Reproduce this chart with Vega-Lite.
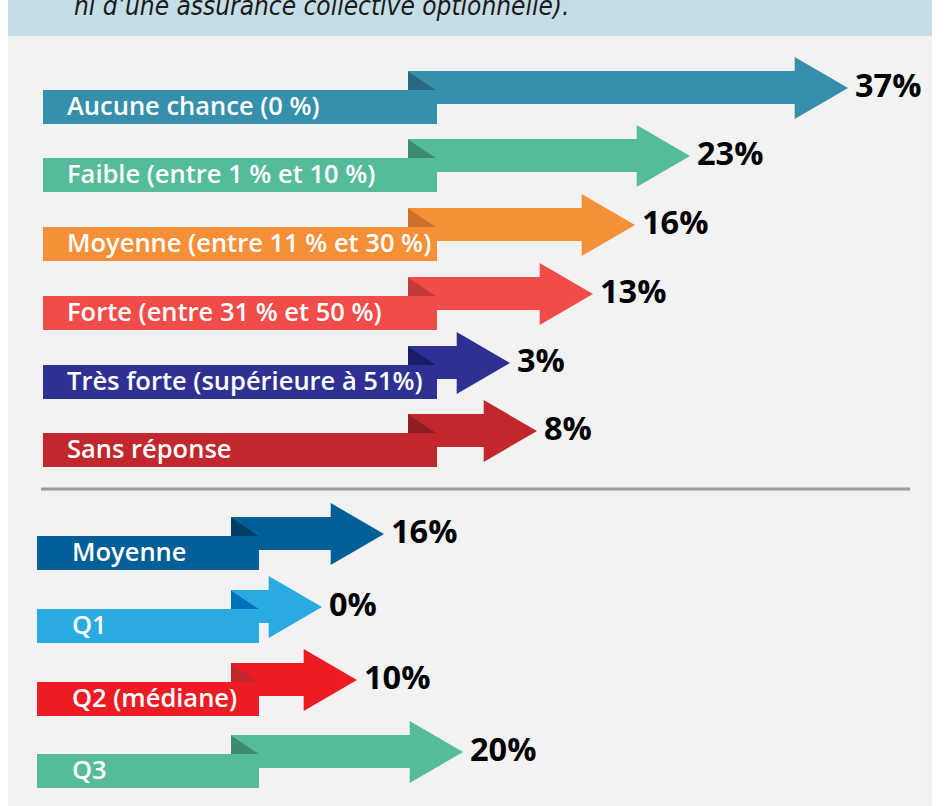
{
  "$schema": "https://vega.github.io/schema/vega-lite/v6.json",
  "width": 924,
  "height": 806,
  "autosize": {"type": "none"},
  "padding": {"left": 8, "right": 15, "top": 0, "bottom": 0},
  "background": "#ffffff",
  "config": {"view": {"stroke": null, "fill": "#f2f2f2"}},
  "datasets": {
    "rows": [
      {"section": "top", "label": "Aucune chance (0 %)", "share": 0.37, "color": "#368fab", "fold": "#28697f", "c": 107, "x0": 43, "x1": 437, "a0": 408, "tip": 848},
      {"section": "top", "label": "Faible (entre 1 % et 10 %)", "share": 0.23, "color": "#55bb9b", "fold": "#3d8b73", "c": 175, "x0": 43, "x1": 437, "a0": 408, "tip": 690},
      {"section": "top", "label": "Moyenne (entre 11 % et 30 %)", "share": 0.16, "color": "#f58f38", "fold": "#c8722d", "c": 244, "x0": 43, "x1": 437, "a0": 408, "tip": 635},
      {"section": "top", "label": "Forte (entre 31 % et 50 %)", "share": 0.13, "color": "#f24c4a", "fold": "#c23a3c", "c": 313, "x0": 43, "x1": 437, "a0": 408, "tip": 593},
      {"section": "top", "label": "Très forte (supérieure à 51%)", "share": 0.03, "color": "#2e3192", "fold": "#1c1d68", "c": 382, "x0": 43, "x1": 437, "a0": 408, "tip": 510},
      {"section": "top", "label": "Sans réponse", "share": 0.08, "color": "#c1272d", "fold": "#8e1e23", "c": 450, "x0": 43, "x1": 437, "a0": 408, "tip": 537},
      {"section": "bottom", "label": "Moyenne", "share": 0.16, "color": "#005f96", "fold": "#003d63", "c": 553, "x0": 37, "x1": 259, "a0": 231, "tip": 384},
      {"section": "bottom", "label": "Q1", "share": 0.0, "color": "#29abe2", "fold": "#0071bc", "c": 626, "x0": 37, "x1": 259, "a0": 231, "tip": 322},
      {"section": "bottom", "label": "Q2 (médiane)", "share": 0.10, "color": "#ed1c24", "fold": "#c1272d", "c": 699, "x0": 37, "x1": 259, "a0": 231, "tip": 357},
      {"section": "bottom", "label": "Q3", "share": 0.20, "color": "#55bb9b", "fold": "#3d8b73", "c": 771, "x0": 37, "x1": 259, "a0": 231, "tip": 463}
    ],
    "frame": [
      {"x": 8, "x2": 932, "y": 0, "y2": 36, "text": "ni d’une assurance collective optionnelle).", "tx": 74, "ty": 15}
    ],
    "divider": [
      {"x": 41, "x2": 910, "y": 489}
    ]
  },
  "layer": [
    {
      "data": {"name": "frame"},
      "mark": {"type": "rect", "color": "#c4dde6"},
      "encoding": {
        "x": {"field": "x", "type": "quantitative", "scale": {"domain": [8, 932], "nice": false, "zero": false}, "axis": null},
        "x2": {"field": "x2"},
        "y": {"field": "y", "type": "quantitative", "scale": {"domain": [0, 806], "nice": false, "zero": false, "reverse": true}, "axis": null},
        "y2": {"field": "y2"}
      }
    },
    {
      "data": {"name": "frame"},
      "mark": {"type": "text", "align": "left", "baseline": "alphabetic", "font": "Liberation Sans Narrow, DejaVu Sans Condensed, sans-serif", "fontStyle": "italic", "fontSize": 26, "color": "#1a1a1a"},
      "encoding": {
        "x": {"field": "tx", "type": "quantitative", "scale": {"domain": [8, 932], "nice": false, "zero": false}, "axis": null},
        "y": {"field": "ty", "type": "quantitative", "scale": {"domain": [0, 806], "nice": false, "zero": false, "reverse": true}, "axis": null},
        "text": {"field": "text"}
      }
    },
    {
      "data": {"name": "divider"},
      "mark": {"type": "rule", "color": "#9b9b9b", "strokeWidth": 3},
      "encoding": {
        "x": {"field": "x", "type": "quantitative", "scale": {"domain": [8, 932], "nice": false, "zero": false}, "axis": null},
        "x2": {"field": "x2"},
        "y": {"field": "y", "type": "quantitative", "scale": {"domain": [0, 806], "nice": false, "zero": false, "reverse": true}, "axis": null}
      }
    },
    {
      "data": {"name": "rows"},
      "mark": {"type": "rect", "x2Offset": -50, "yOffset": -36, "y2Offset": -3},
      "encoding": {
        "x": {"field": "a0", "type": "quantitative", "scale": {"domain": [8, 932], "nice": false, "zero": false}, "axis": null},
        "x2": {"field": "tip"},
        "y": {"field": "c", "type": "quantitative", "scale": {"domain": [0, 806], "nice": false, "zero": false, "reverse": true}, "axis": null},
        "y2": {"field": "c"},
        "color": {"field": "color", "type": "nominal", "scale": null}
      }
    },
    {
      "data": {"name": "rows"},
      "mark": {"type": "point", "shape": "M0,-1L0,0L1.5,0Z", "size": 1369, "filled": true, "opacity": 1, "yOffset": -17},
      "encoding": {
        "x": {"field": "a0", "type": "quantitative", "scale": {"domain": [8, 932], "nice": false, "zero": false}, "axis": null},
        "y": {"field": "c", "type": "quantitative", "scale": {"domain": [0, 806], "nice": false, "zero": false, "reverse": true}, "axis": null},
        "color": {"field": "fold", "type": "nominal", "scale": null}
      }
    },
    {
      "data": {"name": "rows"},
      "mark": {"type": "rect", "yOffset": -17, "y2Offset": 17},
      "encoding": {
        "x": {"field": "x0", "type": "quantitative", "scale": {"domain": [8, 932], "nice": false, "zero": false}, "axis": null},
        "x2": {"field": "x1"},
        "y": {"field": "c", "type": "quantitative", "scale": {"domain": [0, 806], "nice": false, "zero": false, "reverse": true}, "axis": null},
        "y2": {"field": "c"},
        "color": {"field": "color", "type": "nominal", "scale": null}
      }
    },
    {
      "data": {"name": "rows"},
      "mark": {"type": "point", "shape": "M-1.72,-1L0,0L-1.72,1Z", "size": 3844, "filled": true, "opacity": 1, "yOffset": -19},
      "encoding": {
        "x": {"field": "tip", "type": "quantitative", "scale": {"domain": [8, 932], "nice": false, "zero": false}, "axis": null},
        "y": {"field": "c", "type": "quantitative", "scale": {"domain": [0, 806], "nice": false, "zero": false, "reverse": true}, "axis": null},
        "color": {"field": "color", "type": "nominal", "scale": null}
      }
    },
    {
      "data": {"name": "rows"},
      "transform": [{"filter": "datum.section === 'top'"}],
      "mark": {"type": "text", "align": "left", "baseline": "alphabetic", "font": "Open Sans", "fontWeight": 600, "fontSize": 25.5, "color": "#ffffff", "xOffset": 24, "yOffset": 8},
      "encoding": {
        "x": {"field": "x0", "type": "quantitative", "scale": {"domain": [8, 932], "nice": false, "zero": false}, "axis": null},
        "y": {"field": "c", "type": "quantitative", "scale": {"domain": [0, 806], "nice": false, "zero": false, "reverse": true}, "axis": null},
        "text": {"field": "label"}
      }
    },
    {
      "data": {"name": "rows"},
      "transform": [{"filter": "datum.section === 'bottom'"}],
      "mark": {"type": "text", "align": "left", "baseline": "alphabetic", "font": "Open Sans", "fontWeight": 600, "fontSize": 25.5, "color": "#ffffff", "xOffset": 35, "yOffset": 8},
      "encoding": {
        "x": {"field": "x0", "type": "quantitative", "scale": {"domain": [8, 932], "nice": false, "zero": false}, "axis": null},
        "y": {"field": "c", "type": "quantitative", "scale": {"domain": [0, 806], "nice": false, "zero": false, "reverse": true}, "axis": null},
        "text": {"field": "label"}
      }
    },
    {
      "data": {"name": "rows"},
      "mark": {"type": "text", "align": "left", "baseline": "alphabetic", "font": "Open Sans", "fontWeight": "bold", "fontSize": 32.5, "color": "#000000", "xOffset": 7, "yOffset": -10},
      "encoding": {
        "x": {"field": "tip", "type": "quantitative", "scale": {"domain": [8, 932], "nice": false, "zero": false}, "axis": null},
        "y": {"field": "c", "type": "quantitative", "scale": {"domain": [0, 806], "nice": false, "zero": false, "reverse": true}, "axis": null},
        "text": {"field": "share", "type": "quantitative", "format": ".0%"}
      }
    }
  ]
}
